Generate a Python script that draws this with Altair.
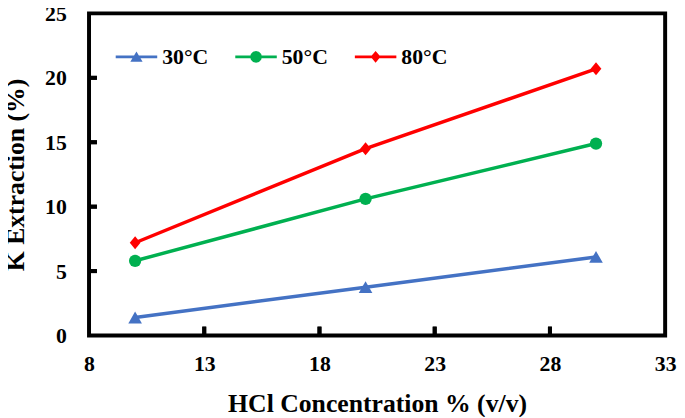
import altair as alt
import pandas as pd

# ---- data ----
conc = [10, 20, 30]
series = ["30°C", "50°C", "80°C"]
k30 = [1.4, 3.75, 6.1]
k50 = [5.8, 10.6, 14.9]
k80 = [7.2, 14.5, 20.7]
colors = ["#4472C4", "#00B050", "#FF0000"]
x_ticks = [8, 13, 18, 23, 28, 33]
y_ticks = [0, 5, 10, 15, 20, 25]

rows = []
for s, vals in zip(series, [k30, k50, k80]):
    for c, v in zip(conc, vals):
        rows.append({"conc": c, "k": v, "series": s})
df = pd.DataFrame(rows)
xt = pd.DataFrame({"t": x_ticks[1:-1]})
yt = pd.DataFrame({"t": y_ticks[1:-1]})

W, H = 583, 326
FONT = "Liberation Serif"

xscale = alt.Scale(domain=[x_ticks[0], x_ticks[-1]], nice=False, zero=False)
yscale = alt.Scale(domain=[y_ticks[0], y_ticks[-1]], nice=False)
cscale = alt.Scale(domain=series, range=colors)

x_axis = alt.Axis(values=x_ticks, title="HCl Concentration % (v/v)", labelPadding=18,
                  titlePadding=17, labelFlush=False, labelOverlap=False)
y_axis = alt.Axis(values=y_ticks, title="K Extraction (%)", labelPadding=23,
                  titlePadding=16, labelFlush=False, labelOverlap=False)

base = alt.Chart(df)

lines = base.mark_line(strokeWidth=3.5).encode(
    x=alt.X("conc:Q", scale=xscale, axis=x_axis),
    y=alt.Y("k:Q", scale=yscale, axis=y_axis),
    color=alt.Color("series:N", scale=cscale, legend=None),
)

marker_shapes = ["triangle-up", "circle", "M0,-1.1L0.9,0L0,1.1L-0.9,0Z"]
marker_sizes = [190, 155, 145]
point_layers = []
for s, shp, sz in zip(series, marker_shapes, marker_sizes):
    point_layers.append(
        base.transform_filter(alt.datum.series == s)
        .mark_point(filled=True, opacity=1, shape=shp, size=sz, strokeWidth=0)
        .encode(
            x=alt.X("conc:Q", scale=xscale),
            y=alt.Y("k:Q", scale=yscale),
            color=alt.Color("series:N", scale=cscale, legend=None),
        )
    )

bar = "M-2.1,-0.14H2.1V0.14H-2.1Z"
legend_paths = [
    bar + "M0,-0.55L0.62,0.5H-0.62Z",
    bar + "M0.6,0L0.52,0.3L0.3,0.52L0,0.6L-0.3,0.52L-0.52,0.3L-0.6,0L-0.52,-0.3L-0.3,-0.52L0,-0.6L0.3,-0.52L0.52,-0.3Z",
    bar + "M0,-0.6L0.5,0L0,0.6L-0.5,0Z",
]
leg = alt.Legend(
    orient="none", legendX=37, legendY=33, direction="horizontal", title=None,
    symbolSize=400, labelOffset=15, columnPadding=27, padding=0,
    labelFont=FONT, labelFontSize=22, labelFontWeight="bold", labelColor="black",
    symbolStrokeWidth=0, symbolOpacity=1,
)
legend_layer = base.mark_point(filled=True, opacity=0.001).encode(
    x=alt.X("conc:Q", scale=xscale),
    y=alt.Y("k:Q", scale=yscale),
    color=alt.Color("series:N", scale=cscale, legend=leg),
    shape=alt.Shape("series:N", scale=alt.Scale(domain=series, range=legend_paths), legend=leg),
)

# inward tick marks (two ways, drawn on top of each other)
xtick_rule = alt.Chart(xt).mark_rule(color="black", strokeWidth=4).encode(
    x=alt.X("t:Q", scale=xscale), y=alt.value(H - 9), y2=alt.value(H)
)
ytick_rule = alt.Chart(yt).mark_rule(color="black", strokeWidth=4).encode(
    y=alt.Y("t:Q", scale=yscale), x=alt.value(0), x2=alt.value(8)
)
xtick_tick = alt.Chart(xt).mark_tick(color="black", thickness=4, size=9, orient="vertical",
                                     opacity=1).encode(
    x=alt.X("t:Q", scale=xscale), y=alt.value(H - 4.5)
)
ytick_tick = alt.Chart(yt).mark_tick(color="black", thickness=4, size=8, orient="horizontal",
                                     opacity=1).encode(
    y=alt.Y("t:Q", scale=yscale), x=alt.value(4)
)

chart = alt.layer(lines, *point_layers, legend_layer,
                  xtick_rule, ytick_rule, xtick_tick, ytick_tick).resolve_scale(
    color="independent", shape="independent"
).properties(
    width=W, height=H,
    padding={"left": 82, "top": 3, "right": 12, "bottom": 80},
    autosize=alt.AutoSizeParams(type="none"),
    background="white",
).configure_view(
    stroke="black", strokeWidth=4
).configure_axis(
    domain=False, ticks=False, grid=False,
    labelFont=FONT, labelFontSize=22, labelFontWeight="bold", labelColor="black",
    titleFont=FONT, titleFontSize=26, titleFontWeight="bold", titleColor="black",
)

chart.save("out.html", embed_options={"renderer": "svg", "actions": False})
